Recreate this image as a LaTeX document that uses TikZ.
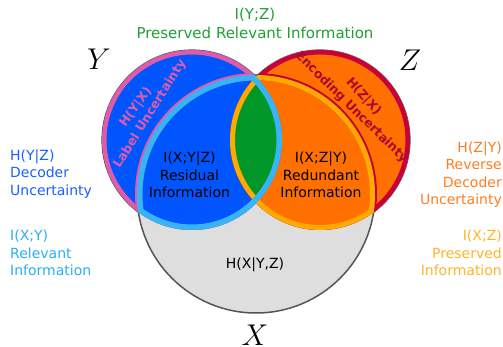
\RequirePackage{fix-cm}
\documentclass[tikz,border=0pt]{standalone}
\usepackage{fontspec}
\setmainfont{DejaVu Sans}

\definecolor{yblue}{RGB}{0,85,255}
\definecolor{zorange}{RGB}{255,112,0}
\definecolor{xgray}{RGB}{222,222,222}
\definecolor{edgegray}{RGB}{85,85,85}
\definecolor{ypink}{RGB}{224,92,168}
\definecolor{zcrimson}{RGB}{200,0,60}
\definecolor{zcrimtext}{RGB}{170,10,50}
\definecolor{xylight}{RGB}{55,180,245}
\definecolor{xzyellow}{RGB}{255,170,0}
\definecolor{yzgreen}{RGB}{0,150,40}
\definecolor{greentext}{RGB}{30,160,50}
\definecolor{bluetext}{RGB}{25,95,255}
\definecolor{lighttext}{RGB}{40,175,245}
\definecolor{orangetext}{RGB}{255,125,30}
\definecolor{yellowtext}{RGB}{255,180,40}

\tikzset{
  lbl/.style = {inner sep=0pt, font=\fontsize{14}{17.5}\selectfont},
  band/.style = {inner sep=0pt, font=\bfseries\fontsize{12.5}{15}\selectfont},
  setname/.style = {inner sep=0pt, font=\fontsize{30}{36}\selectfont}
}

\def\circX{(256,194) circle (119)}
\def\circY{(192,140) circle (90)}
\def\circZ{(320,140) circle (90)}

\begin{document}
\begin{tikzpicture}[x=1pt, y=-1pt]
\useasboundingbox (0,0) rectangle (503,347);

% outer edges of Y and Z, then X
\draw [edgegray, line width=1.2] \circY;
\draw [edgegray, line width=1.2] \circZ;
\filldraw [fill=xgray, draw=edgegray, line width=1.5] \circX;
\fill [yblue] \circY;
\fill [zorange] \circZ;

% X, Y and Z together
\begin{scope}
\clip \circX;
\clip \circY;
\fill [yzgreen] \circZ;
\end{scope}

% H(Y|X) and H(Z|X)
\begin{scope}
\clip \circY;
\draw [ypink, line width=9] \circY;
\draw [ypink, line width=4] \circX;
\end{scope}
\begin{scope}
\clip \circZ;
\draw [zcrimson, line width=9] \circZ;
\draw [zcrimson, line width=4] \circX;
\end{scope}

% I(X;Z) and I(X;Y)
\begin{scope}
\clip \circX;
\clip \circZ;
\draw [xzyellow, line width=10] \circX;
\draw [xzyellow, line width=10] \circZ;
\end{scope}
\begin{scope}
\clip \circX;
\clip \circY;
\draw [xylight, line width=11] \circX;
\draw [xylight, line width=11] \circY;
\end{scope}

% set names
\node [setname] (nameY) at (99,59) {$Y$};
\node [setname] (nameZ) at (410,60) {$Z$};
\node [setname] (nameX) at (255,335) {$X$};

% inside the circles
\node [lbl, align=center] (residual) at (189.5,175) {I(X;Y|Z)\\Residual\\Information};
\node [lbl, align=center] (redundant) at (321,175) {I(X;Z|Y)\\Redundant\\Information};
\node [lbl] (hxyz) at (255,265) {H(X|Y,Z)};
\node [band, text=ypink, rotate=54] (hyx) at (136,107.5) {H(Y|X)};
\node [band, text=ypink, rotate=58] (labelunc) at (150,114) {Label Uncertainty};
\node [band, text=zcrimtext, rotate=-47.5] (hzx) at (363.5,96.5) {H(Z|X)};
\node [band, text=zcrimtext, rotate=-44.5] (encunc) at (351.5,107.5) {Encoding Uncertainty};

% around the diagram
\node [inner sep=0pt, align=center, text=greentext, font=\fontsize{15}{19}\selectfont] (iyz) at (255,23.5) {I(Y;Z)\\Preserved Relevant Information};
\node [lbl, align=left, anchor=west, text=bluetext] (hyz) at (10,174) {H(Y|Z)\\Decoder\\Uncertainty};
\node [lbl, align=left, anchor=west, text=lighttext] (ixy) at (10,253) {I(X;Y)\\Relevant\\Information};
\node [lbl, align=right, anchor=east, text=orangetext] (hzy) at (502,174.5) {H(Z|Y)\\Reverse\\Decoder\\Uncertainty};
\node [lbl, align=right, anchor=east, text=yellowtext] (ixz) at (502,253) {I(X;Z)\\Preserved\\Information};
\end{tikzpicture}
\end{document}
